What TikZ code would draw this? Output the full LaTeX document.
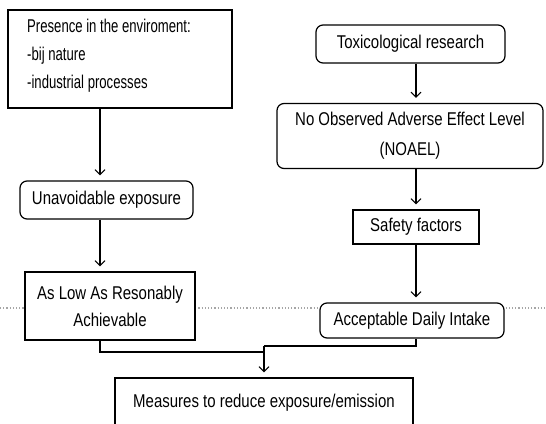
\documentclass[tikz,border=0pt]{standalone}
\usepackage{fontspec}
\setmainfont{Liberation Sans}[FakeStretch=0.81]
\newfontfamily\tightfont{Liberation Sans}[FakeStretch=0.71]
\usetikzlibrary{arrows.meta}

\tikzset{
  box/.style={draw=black, line width=1.2pt, fill=white, inner sep=0pt,
    align=center, font=\fontsize{18.5}{27}\selectfont},
  roundbox/.style={box, rounded corners=7pt},
  link/.style={draw=black, line width=1.2pt},
  flow/.style={link, -{Straight Barb[length=5pt,width=10pt,line width=1pt]}, shorten >=5pt},
  scanline/.style={draw=black!35, line width=1.2pt, dotted},
  txt/.style={inner sep=0pt, align=left, font=\tightfont\fontsize{18.5}{28}\selectfont}
}

\begin{document}
\begin{tikzpicture}[x=1pt, y=-1pt]
  \clip (0,0) rectangle (546,423);
  \useasboundingbox (0,0) rectangle (546,423);

  % faint dotted band across the sheet
  \draw[scanline] (0,308) -- (546,308);

  % left column
  \node[box, minimum width=224pt, minimum height=98pt] (presence) at (120,59) {};
  \node[txt, anchor=base west] (presencetext) at (27,88)
    {Presence in the enviroment:\\-bij nature\\-industrial processes};
  \node[roundbox, minimum width=173pt, minimum height=38pt] (unavoid) at (106.5,200) {Unavoidable exposure};
  \node[box, minimum width=170pt, minimum height=68pt] (alara) at (110,306) {As Low As Resonably\\Achievable};

  % right column
  \node[roundbox, minimum width=189pt, minimum height=38pt] (tox) at (410.5,44) {Toxicological research};
  \node[roundbox, minimum width=266pt, minimum height=65pt] (noael) at (410,136) {No Observed Adverse Effect Level\\[3pt](NOAEL)};
  \node[box, minimum width=126pt, minimum height=34pt] (safety) at (416,227) {Safety factors};
  \node[roundbox, minimum width=184pt, minimum height=35pt] (adi) at (412,320.5) {Acceptable Daily Intake};

  % common outcome
  \node[box, minimum width=298pt, minimum height=50pt] (measures) at (264,403) {Measures to reduce exposure/emission};

  % connectors
  \coordinate (leftdrop) at (100,352);
  \coordinate (rightdrop) at (416,346);
  \coordinate (join) at (264,346);

  \draw[flow] (presence.south -| 100,0) -- (unavoid.north -| 100,0);
  \draw[flow] (unavoid.south -| 100,0) -- (alara.north -| 100,0);
  \draw[flow] (tox.south -| 416,0) -- (noael.north -| 416,0);
  \draw[flow] (noael.south -| 416,0) -- (safety.north -| 416,0);
  \draw[flow] (safety.south -| 416,0) -- (adi.north -| 416,0);

  \draw[link] (alara.south -| leftdrop) -- (leftdrop) -- (leftdrop -| join);
  \draw[link] (adi.south -| rightdrop) -- (rightdrop) -- (join);
  \draw[flow] (join) -- (measures.north -| join);
\end{tikzpicture}
\end{document}
